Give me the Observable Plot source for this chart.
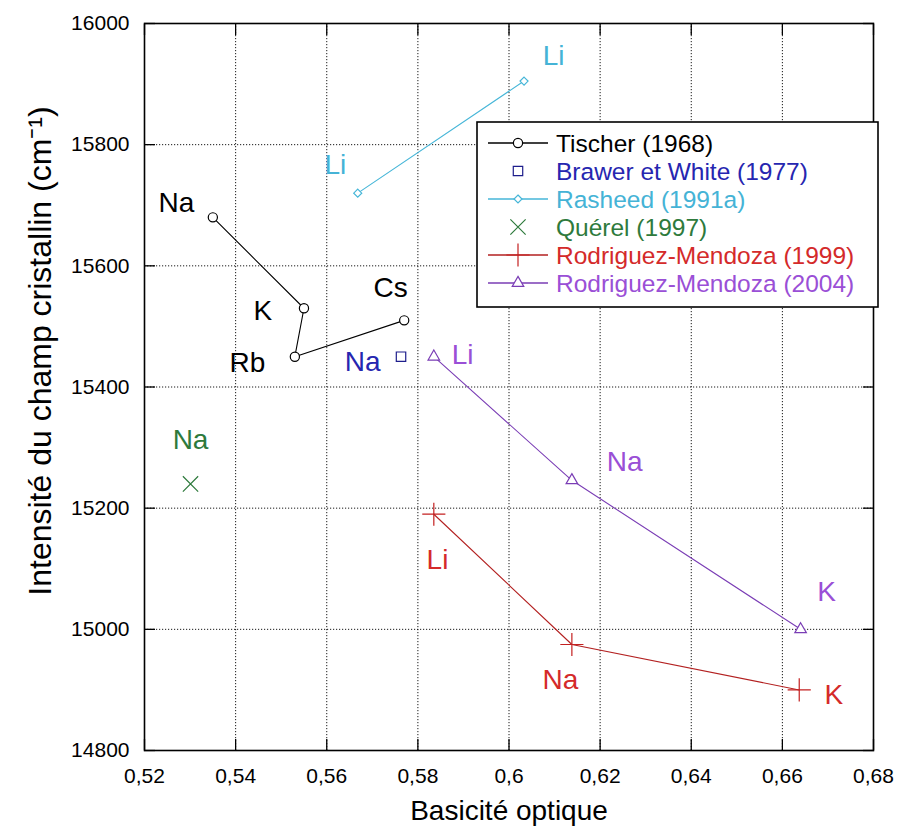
<!DOCTYPE html>
<html>
<head>
<meta charset="utf-8">
<script src="https://cdn.jsdelivr.net/npm/d3@7"></script>
<script src="https://cdn.jsdelivr.net/npm/@observablehq/plot@0.6"></script>
<style>
  html, body { margin: 0; padding: 0; background: #fff; }
  #chart { width: 897px; height: 830px; }
</style>
</head>
<body>
<div id="chart"></div>
<script>
// ---- Axis ticks ----
const xTicks = [0.52, 0.54, 0.56, 0.58, 0.60, 0.62, 0.64, 0.66, 0.68];
const yTicks = [14800, 15000, 15200, 15400, 15600, 15800, 16000];

// ---- Tischer (1968) ----
const tischerX = [0.535, 0.555, 0.553, 0.577];
const tischerY = [15680, 15530, 15450, 15510];
const tischerNames = ["Na", "K", "Rb", "Cs"];
const tischerLabelX = [0.527, 0.546, 0.5426, 0.574];
const tischerLabelY = [15703, 15526, 15439, 15563];

// ---- Brawer et White (1977) ----
const brawerX = [0.5763];
const brawerY = [15450];
const brawerNames = ["Na"];
const brawerLabelX = [0.5679];
const brawerLabelY = [15441];

// ---- Rasheed (1991a) ----
const rasheedX = [0.5668, 0.6033];
const rasheedY = [15720, 15905];
const rasheedNames = ["Li", "Li"];
const rasheedLabelX = [0.5619, 0.6098];
const rasheedLabelY = [15766, 15947];

// ---- Quérel (1997) ----
const querelX = [0.5301];
const querelY = [15240];
const querelNames = ["Na"];
const querelLabelX = [0.5301];
const querelLabelY = [15312];

// ---- Rodriguez-Mendoza (1999) ----
const rm1999X = [0.5835, 0.6138, 0.6637];
const rm1999Y = [15190, 14975, 14900];
const rm1999Names = ["Li", "Na", "K"];
const rm1999LabelX = [0.5843, 0.6113, 0.6713];
const rm1999LabelY = [15114, 14916, 14891];

// ---- Rodriguez-Mendoza (2004) ----
const rm2004X = [0.5835, 0.6138, 0.664];
const rm2004Y = [15450, 15246, 15000];
const rm2004Names = ["Li", "Na", "K"];
const rm2004LabelX = [0.5898, 0.6254, 0.6697];
const rm2004LabelY = [15452, 15276, 15061];

// ---- Legend entries ----
const legendNames = ["Tischer (1968)", "Brawer et White (1977)", "Rasheed (1991a)", "Quérel (1997)", "Rodriguez-Mendoza (1999)", "Rodriguez-Mendoza (2004)"];

// styles
const C = {
  tischer: {line: "#000", mark: "#000", text: "#000"},
  brawer: {line: null, mark: "#1e1e8c", text: "#2626b0"},
  rasheed: {line: "#46b6d8", mark: "#46b6d8", text: "#45b3d6"},
  querel: {line: null, mark: "#2e7a3c", text: "#2e7a3c"},
  rm1999: {line: "#b32020", mark: "#c42020", text: "#d42a2a"},
  rm2004: {line: "#7a3db5", mark: "#7a3db5", text: "#9a4fd6"}
};
const SYM = {
  tischer: {symbol: "circle", r: 4.6},
  brawer: {symbol: "square2", r: 6},
  rasheed: {symbol: "diamond2", r: 3.6},
  querel: {symbol: "times", r: 7},
  rm1999: {symbol: "plus", r: 7.5},
  rm2004: {symbol: "triangle2", r: 5.5}
};

const tbl = (xs, ys, names) => xs.map((x, i) => ({x, y: ys[i], name: names[i]}));
const series = [
  {key: "tischer", pts: tbl(tischerX, tischerY, tischerNames), labs: tbl(tischerLabelX, tischerLabelY, tischerNames), line: true},
  {key: "brawer", pts: tbl(brawerX, brawerY, brawerNames), labs: tbl(brawerLabelX, brawerLabelY, brawerNames), line: false},
  {key: "rasheed", pts: tbl(rasheedX, rasheedY, rasheedNames), labs: tbl(rasheedLabelX, rasheedLabelY, rasheedNames), line: true},
  {key: "querel", pts: tbl(querelX, querelY, querelNames), labs: tbl(querelLabelX, querelLabelY, querelNames), line: false},
  {key: "rm1999", pts: tbl(rm1999X, rm1999Y, rm1999Names), labs: tbl(rm1999LabelX, rm1999LabelY, rm1999Names), line: true},
  {key: "rm2004", pts: tbl(rm2004X, rm2004Y, rm2004Names), labs: tbl(rm2004LabelX, rm2004LabelY, rm2004Names), line: true}
];

const fmt = d => String(+d.toFixed(2)).replace(".", ",");
const seriesMarks = [];
for (const s of series) {
  if (s.line) seriesMarks.push(Plot.line(s.pts, {x: "x", y: "y", stroke: C[s.key].line, strokeWidth: 1.1}));
  seriesMarks.push(Plot.dot(s.pts, {x: "x", y: "y", symbol: SYM[s.key].symbol, r: SYM[s.key].r, stroke: C[s.key].mark, strokeWidth: 1.2, fill: s.key === "querel" ? null : "white"}));
  seriesMarks.push(Plot.text(s.labs, {x: "x", y: "y", text: "name", fill: C[s.key].text, fontSize: 28, textAnchor: "middle", lineAnchor: "middle"}));
}

const chart = Plot.plot({
  width: 897,
  height: 830,
  marginLeft: 144,
  marginRight: 24,
  marginTop: 23,
  marginBottom: 80,
  style: {fontFamily: "'Liberation Sans', Arial, Helvetica, sans-serif", background: "#fff", color: "#000"},
  x: {domain: [0.52, 0.68]},
  y: {domain: [14800, 16000]},
  marks: [
    Plot.gridX(xTicks, {stroke: "#000", strokeOpacity: 0.9, strokeDasharray: "1.2,1.8", strokeWidth: 1}),
    Plot.gridY(yTicks, {stroke: "#000", strokeOpacity: 0.9, strokeDasharray: "1.2,1.8", strokeWidth: 1}),
    // labels
    Plot.axisX(xTicks, {anchor: "bottom", tickSize: 0, tickPadding: 18, tickFormat: fmt, fontSize: 21, label: null}),
    Plot.axisY(yTicks, {anchor: "left", tickSize: 0, tickPadding: 15, tickFormat: d => String(d), fontSize: 21, label: null}),
    // inward ticks on all four sides
    Plot.axisX(xTicks, {anchor: "bottom", tickSize: -11, tickFormat: () => "", label: null, strokeWidth: 1.3}),
    Plot.axisX(xTicks, {anchor: "top", tickSize: -11, tickFormat: () => "", label: null, strokeWidth: 1.3}),
    Plot.axisY(yTicks, {anchor: "left", tickSize: -11, tickFormat: () => "", label: null, strokeWidth: 1.3}),
    Plot.axisY(yTicks, {anchor: "right", tickSize: -11, tickFormat: () => "", label: null, strokeWidth: 1.3}),
    Plot.frame({stroke: "#000", strokeWidth: 1.6}),
    ...seriesMarks,
    Plot.text(["Basicité optique"], {frameAnchor: "bottom", dy: 61, fontSize: 28, fill: "#000", textAnchor: "middle", lineAnchor: "middle"}),
    Plot.text(["Intensité du champ cristallin (cm⁻¹)"], {frameAnchor: "left", dx: -104, dy: -36, rotate: -90, fontSize: 32, fill: "#000", textAnchor: "middle", lineAnchor: "middle"})
  ]
});

document.getElementById("chart").appendChild(chart);

// ---- Legend (drawn into the same SVG) ----
const svg = d3.select(chart);
const lg = svg.append("g").attr("class", "legend").attr("text-anchor", "start");
const boxX = 477, boxY = 122, boxW = 401, boxH = 185, rowH = 28;
lg.append("rect").attr("x", boxX).attr("y", boxY).attr("width", boxW).attr("height", boxH)
  .attr("fill", "#fff").attr("stroke", "#000").attr("stroke-width", 1.6);
const symMap = {circle: d3.symbolCircle, square2: d3.symbolSquare2, diamond2: d3.symbolDiamond2, times: d3.symbolTimes, plus: d3.symbolPlus, triangle2: d3.symbolTriangle2};
series.forEach((s, i) => {
  const cy = boxY + 21 + i * rowH;
  const g = lg.append("g").attr("transform", `translate(0,${cy})`);
  if (s.line) g.append("line").attr("x1", boxX + 11).attr("x2", boxX + 71).attr("y1", 0).attr("y2", 0)
    .attr("stroke", C[s.key].line).attr("stroke-width", 1.3);
  const sym = SYM[s.key];
  g.append("path").attr("transform", `translate(${boxX + 41},0)`)
    .attr("d", d3.symbol(symMap[sym.symbol], Math.PI * sym.r * sym.r)())
    .attr("fill", s.key === "querel" ? "none" : "#fff").attr("stroke", C[s.key].mark).attr("stroke-width", 1.2);
  g.append("text").attr("x", boxX + 79).attr("y", 0).attr("dy", "0.35em").attr("text-anchor", "start")
    .attr("font-size", 24.5).attr("fill", C[s.key].text).text(legendNames[i]);
});
</script>
</body>
</html>
